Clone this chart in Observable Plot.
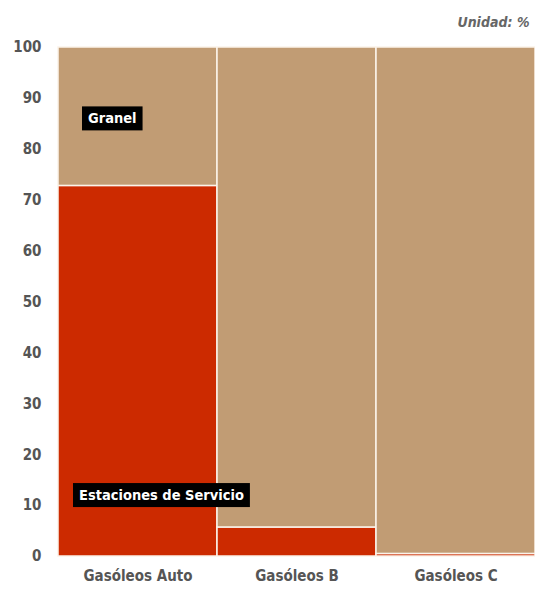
<!DOCTYPE html>
<html>
<head>
<meta charset="utf-8">
<script src="https://cdn.jsdelivr.net/npm/d3@7"></script>
<script src="https://cdn.jsdelivr.net/npm/@observablehq/plot@0.6"></script>
<style>
  html, body { margin: 0; padding: 0; background: #fff; }
  #chart svg { display: block; }
</style>
</head>
<body>
<div id="chart"></div>
<script>
const categories = ["Gasóleos Auto", "Gasóleos B", "Gasóleos C"];
const series = ["Estaciones de Servicio", "Granel"];
const estaciones = [72.8, 5.7, 0.5];
const granel = [27.2, 94.3, 99.5];
const yTicks = [0, 10, 20, 30, 40, 50, 60, 70, 80, 90, 100];
const unitLabel = "Unidad: %";
const labelGranel = [{category: "Gasóleos Auto", value: 86, text: "Granel"}];
const labelEstaciones = [{category: "Gasóleos Auto", value: 12, text: "Estaciones de Servicio"}];

const data = [];
categories.forEach((c, i) => {
  data.push({category: c, series: series[0], value: estaciones[i]});
  data.push({category: c, series: series[1], value: granel[i]});
});

const font = "'DejaVu Sans Condensed', 'Liberation Sans Narrow', sans-serif";

const chart = Plot.plot({
  width: 535,
  height: 590,
  marginTop: 47,
  marginBottom: 34,
  marginLeft: 57,
  marginRight: 0,
  style: {fontFamily: font, background: "#fff"},
  x: {domain: categories, padding: 0, label: null},
  y: {domain: [0, 100], label: null},
  color: {domain: series, range: ["#cc2a00", "#c19c74"]},
  marks: [
    Plot.barY(data, {x: "category", y: "value", fill: "series", order: series, stroke: "#fbf3ea", strokeWidth: 1.5}),
    Plot.axisY({ticks: yTicks, tickSize: 0, tickPadding: 16, fontSize: 15, fontWeight: "bold", fill: "#555", label: null}),
    Plot.axisX({tickSize: 0, tickPadding: 14, fontSize: 15, fontWeight: 600, fill: "#555", label: null}),
    Plot.text(labelGranel, {x: "category", y: "value", text: "text", dx: -50, textAnchor: "start", fill: "white", fontWeight: "bold", fontSize: 14.5}),
    Plot.text(labelEstaciones, {x: "category", y: "value", text: "text", dx: -59, textAnchor: "start", fill: "white", fontWeight: "bold", fontSize: 14.5}),
    Plot.text([unitLabel], {text: d => d, frameAnchor: "top-right", dy: -30, dx: -6, fontStyle: "italic", fontWeight: "bold", fontSize: 14, fill: "#666"})
  ]
});
document.getElementById("chart").appendChild(chart);

// draw black boxes behind the segment labels
const wanted = new Set([labelGranel[0].text, labelEstaciones[0].text]);
d3.select(chart).selectAll("text").each(function() {
  if (!wanted.has(this.textContent)) return;
  const bb = this.getBBox();
  const rect = document.createElementNS("http://www.w3.org/2000/svg", "rect");
  const tr = this.getAttribute("transform");
  if (tr) rect.setAttribute("transform", tr);
  rect.setAttribute("x", bb.x - 6);
  rect.setAttribute("y", bb.y - 4);
  rect.setAttribute("width", bb.width + 12);
  rect.setAttribute("height", bb.height + 8);
  rect.setAttribute("fill", "black");
  this.parentNode.insertBefore(rect, this);
});
</script>
</body>
</html>
